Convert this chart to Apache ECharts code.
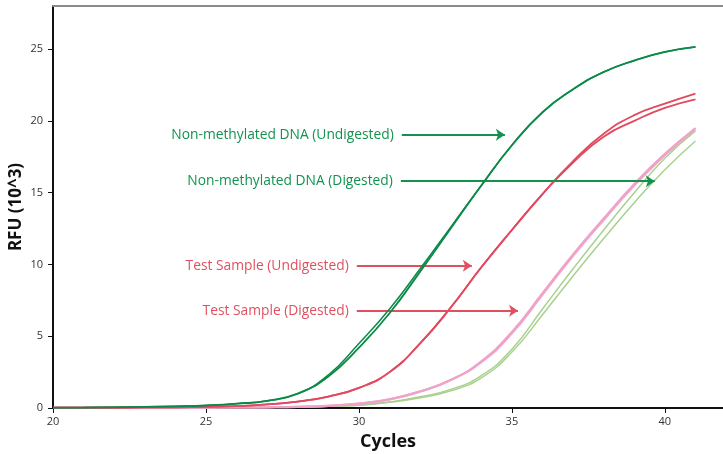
<!DOCTYPE html>
<html>
<head>
<meta charset="utf-8">
<script src="https://cdn.jsdelivr.net/npm/echarts@6/dist/echarts.min.js"></script>
<style>html,body{margin:0;padding:0;background:#fff}#c{width:723px;height:454px}</style>
</head>
<body>
<div id="c"></div>
<script>
const cycles = [20,21,22,23,24,25,26,27,28,29,30,31,32,33,34,35,36,37,38,39,40,41];
const nonMethUndigA = [0.02,0.03,0.05,0.08,0.12,0.18,0.3,0.5,1.0,2.2,4.2,6.6,9.5,12.5,15.5,18.3,20.6,22.2,23.4,24.2,24.8,25.15];
const nonMethUndigB = [0.02,0.03,0.05,0.08,0.12,0.18,0.3,0.5,1.0,2.3,4.5,6.9,9.7,12.6,15.5,18.3,20.6,22.2,23.4,24.2,24.8,25.15];
const testUndigA = [0.02,0.02,0.03,0.04,0.05,0.08,0.13,0.25,0.45,0.8,1.4,2.5,4.5,7.0,9.8,12.4,14.9,17.2,19.1,20.4,21.2,21.9];
const testUndigB = [0.02,0.02,0.03,0.04,0.05,0.08,0.13,0.25,0.45,0.8,1.4,2.5,4.5,7.0,9.8,12.4,14.9,17.1,18.9,20.0,20.9,21.5];
const testDigA = [0.01,0.01,0.01,0.02,0.02,0.03,0.04,0.05,0.08,0.15,0.3,0.6,1.15,1.95,3.25,5.3,8.0,10.7,13.2,15.6,17.7,19.45];
const testDigB = [0.01,0.01,0.01,0.02,0.02,0.03,0.04,0.05,0.08,0.15,0.3,0.6,1.15,1.95,3.2,5.2,7.9,10.6,13.1,15.5,17.6,19.5];
const nonMethDigA = [0.01,0.01,0.01,0.01,0.02,0.02,0.03,0.05,0.07,0.12,0.2,0.42,0.78,1.3,2.25,4.1,6.9,9.7,12.4,15.0,17.4,19.3];
const nonMethDigB = [0.01,0.01,0.01,0.01,0.02,0.02,0.03,0.05,0.07,0.12,0.2,0.4,0.72,1.2,2.1,3.9,6.5,9.2,11.8,14.3,16.6,18.6];

const xTicks = [20,25,30,35,40];
const yTicks = [0,5,10,15,20,25];

// annotation arrows: [label, startCycle, endCycle, rfu, colour]
const annotations = [
  ['Non-methylated DNA (Undigested)', 31.4, 34.77, 19.03, '#13924f'],
  ['Non-methylated DNA (Digested)', 31.37, 39.67, 15.8, '#13924f'],
  ['Test Sample (Undigested)', 29.93, 33.69, 9.91, '#e0505f'],
  ['Test Sample (Digested)', 29.93, 35.2, 6.78, '#e0505f']
];

const DARKGREEN = '#0b8a47', RED = '#e2495f', PINK = '#efa3c8', LIGHTGREEN = '#a9d18e';
const pair = arr => cycles.map((c, i) => [c, arr[i]]);

function line(name, arr, color, width, z) {
  return {
    name, type: 'line', data: pair(arr), smooth: 0.5, symbol: 'none',
    lineStyle: {color, width}, z, silent: true, animation: false
  };
}

const series = [
  line('Non-methylated DNA (Digested) 1', nonMethDigA, LIGHTGREEN, 1.5, 2),
  line('Non-methylated DNA (Digested) 2', nonMethDigB, LIGHTGREEN, 1.5, 2),
  line('Test Sample (Digested) 1', testDigA, PINK, 2.2, 3),
  line('Test Sample (Digested) 2', testDigB, PINK, 2.2, 3),
  line('Test Sample (Undigested) 1', testUndigA, RED, 1.8, 4),
  line('Test Sample (Undigested) 2', testUndigB, RED, 1.8, 4),
  line('Non-methylated DNA (Undigested) 1', nonMethUndigA, DARKGREEN, 1.8, 5),
  line('Non-methylated DNA (Undigested) 2', nonMethUndigB, DARKGREEN, 1.5, 5)
];

series.push({
  type: 'line', data: [], silent: true, animation: false,
  markLine: {
    silent: true, animation: false, symbol: ['none', 'arrow'], symbolSize: 9,
    data: annotations.map(a => [
      {coord: [a[1], a[3]], lineStyle: {color: a[4], width: 2, type: 'solid'},
       label: {show: true, position: 'start', formatter: a[0], color: a[4], fontSize: 13.8,
               fontFamily: 'Open Sans', distance: 8}},
      {coord: [a[2], a[3]]}
    ])
  }
});

const chart = echarts.init(document.getElementById('c'), null, {renderer: 'canvas'});
chart.setOption({
  backgroundColor: '#fff',
  animation: false,
  grid: {left: 53, right: 0, top: 6, bottom: 46, containLabel: false, outerBoundsMode: 'none'},
  xAxis: [{
    type: 'value', min: 20, max: 41.9, interval: 5,
    name: 'Cycles', nameLocation: 'middle', nameGap: 25, nameMoveOverlap: false,
    nameTextStyle: {fontSize: 18, fontWeight: 'bold', color: '#111', fontFamily: 'Open Sans'},
    axisLine: {show: true, lineStyle: {color: '#111', width: 2}},
    axisTick: {show: true, length: 5, lineStyle: {color: '#111'}},
    axisLabel: {fontSize: 11, color: '#333', margin: 8, fontFamily: 'Open Sans',
      customValues: xTicks, formatter: v => String(v)},
    splitLine: {show: false}
  }, {
    type: 'value', position: 'top', min: 20, max: 41.9,
    axisLine: {show: true, onZero: false, lineStyle: {color: '#8a8a8a', width: 2}},
    axisTick: {show: false}, axisLabel: {show: false}, splitLine: {show: false}
  }],
  yAxis: {
    type: 'value', min: 0, max: 28, interval: 5,
    name: 'RFU (10^3)', nameLocation: 'middle', nameGap: 28, nameRotate: 90, nameMoveOverlap: false,
    nameTextStyle: {fontSize: 17, fontWeight: 'bold', color: '#111', fontFamily: 'Open Sans'},
    axisLine: {show: true, lineStyle: {color: '#111', width: 2}},
    axisTick: {show: true, length: 5, lineStyle: {color: '#111'}, customValues: yTicks},
    axisLabel: {fontSize: 11, color: '#333', margin: 10, fontFamily: 'Open Sans',
      customValues: yTicks},
    splitLine: {show: false}
  },
  series
});
</script>
</body>
</html>
